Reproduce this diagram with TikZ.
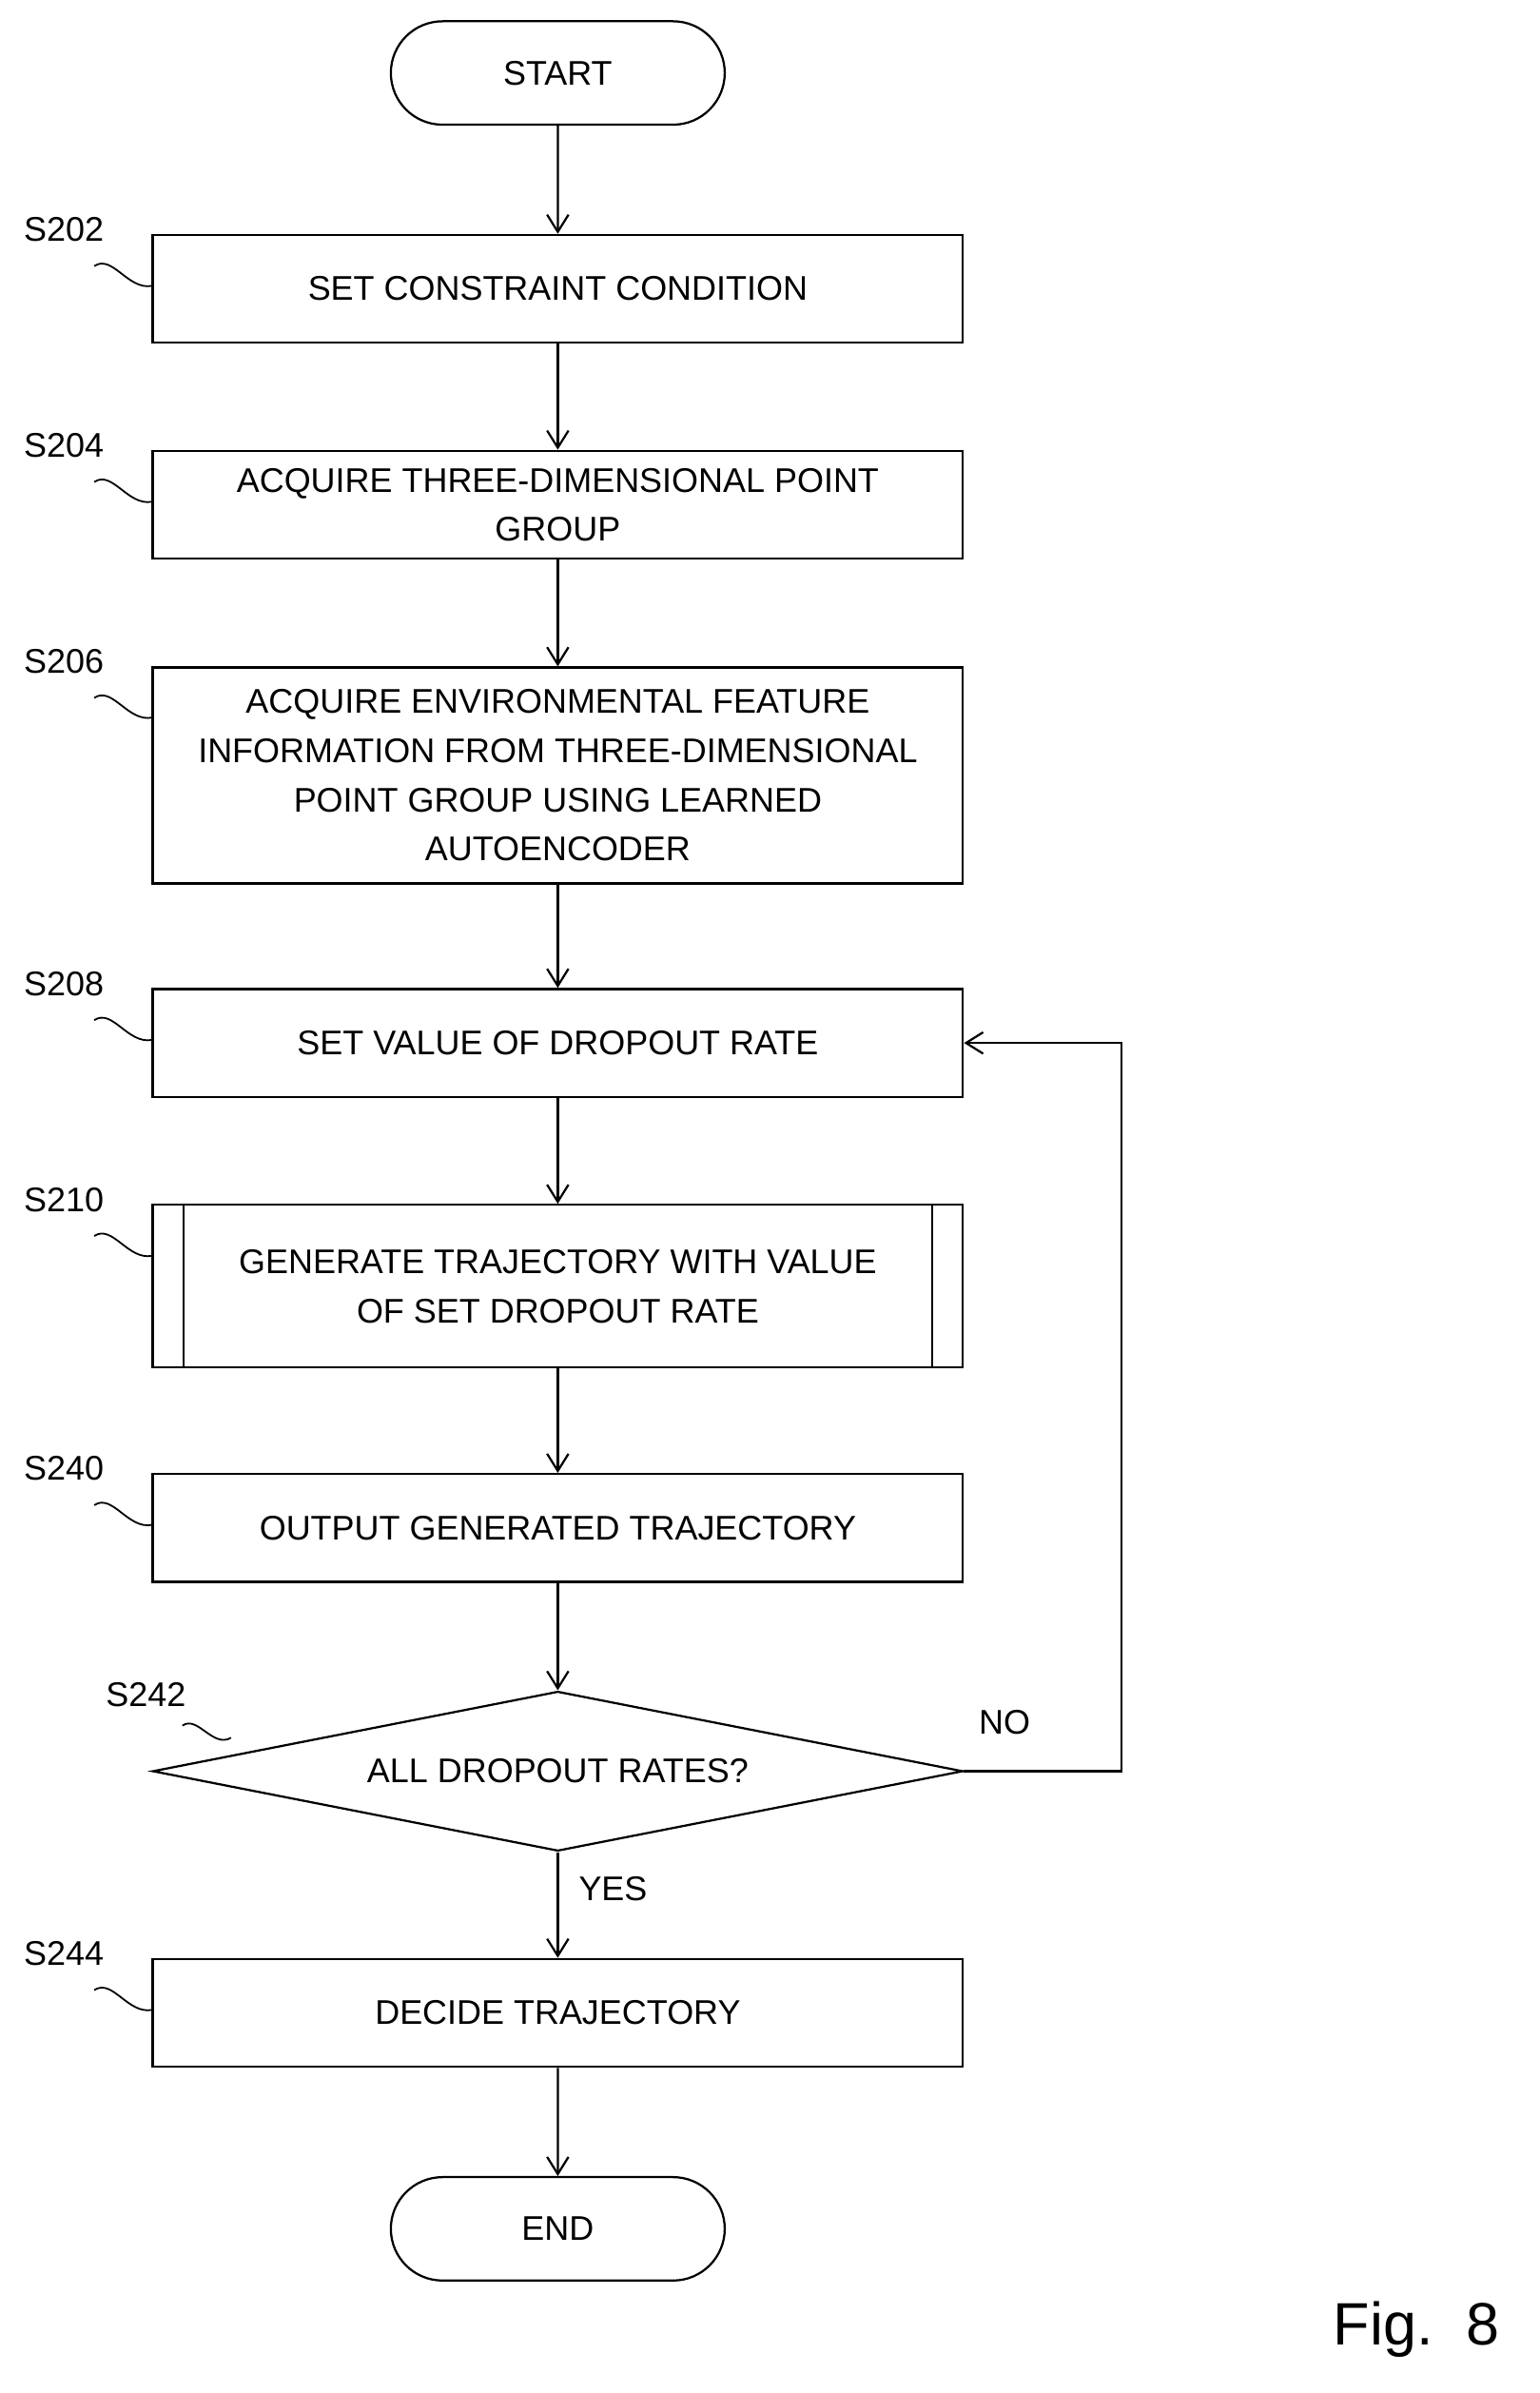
\documentclass[tikz,border=0pt]{standalone}
\usepackage{fontspec}
\setmainfont{Liberation Sans}
\usetikzlibrary{shapes.geometric,shapes.misc,arrows.meta}
\begin{document}
\begin{tikzpicture}[x=0.025cm,y=-0.025cm,
  font=\fontsize{16}{23}\selectfont,
  line width=1pt,
  proc/.style={draw,minimum width=13.325cm,minimum height=1.775cm,align=center,inner sep=2pt},
  term/.style={draw,rounded rectangle,minimum width=5.725cm,minimum height=1.7cm},
  flow/.style={-{Straight Barb[length=8pt,width=10pt]}},
  tag/.style={anchor=center}]
  \useasboundingbox (0,0) rectangle (1013,1574);

  \node[term] (start) at (367,48) {START};
  \node[proc] (s202) at (367,190) {SET CONSTRAINT CONDITION};
  \node[proc] (s204) at (367,332) {ACQUIRE THREE-DIMENSIONAL POINT\\GROUP};
  \node[proc,minimum height=3.55cm] (s206) at (367,510)
    {ACQUIRE ENVIRONMENTAL FEATURE\\INFORMATION FROM THREE-DIMENSIONAL\\POINT GROUP USING LEARNED\\AUTOENCODER};
  \node[proc] (s208) at (367,686) {SET VALUE OF DROPOUT RATE};
  \node[proc,minimum height=2.675cm] (s210) at (367,846)
    {GENERATE TRAJECTORY WITH VALUE\\OF SET DROPOUT RATE};
  \draw ([xshift=0.525cm]s210.north west) -- ([xshift=0.525cm]s210.south west);
  \draw ([xshift=-0.525cm]s210.north east) -- ([xshift=-0.525cm]s210.south east);
  \node[proc] (s240) at (367,1005) {OUTPUT GENERATED TRAJECTORY};
  \node[draw,diamond,aspect=5.08,minimum width=13.325cm,minimum height=2.625cm,inner sep=0pt] (s242) at (367,1165) {ALL DROPOUT RATES?};
  \node[proc] (s244) at (367,1324) {DECIDE TRAJECTORY};
  \node[term] (end) at (367,1466) {END};

  \draw[flow] (start) -- (s202);
  \draw[flow] (s202) -- (s204);
  \draw[flow] (s204) -- (s206);
  \draw[flow] (s206) -- (s208);
  \draw[flow] (s208) -- (s210);
  \draw[flow] (s210) -- (s240);
  \draw[flow] (s240) -- (s242);
  \draw[flow] (s242) -- node[right=6pt,pos=0.35] {YES} (s244);
  \draw[flow] (s244) -- (end);
  \coordinate (loop) at (738,1165);
  \draw[flow] (s242.east) -- (loop) |- (s208.east);
  \node at (661,1133) {NO};

  % step labels
  \foreach \name/\y in {202/155,204/297,206/439,208/651,210/793,240/970,244/1289}{
    \node[tag] at (42,\y-4) {S\name};
    \draw[line width=0.8pt] (62,\y+20) .. controls (74,\y+12) and (84,\y+36) .. (100,\y+33);
  }
  \node[tag] at (96,1115) {S242};
  \draw[line width=0.8pt] (120,1135) .. controls (130,1128) and (140,1150) .. (152,1143);

  \node[font=\fontsize{28}{32}\selectfont] at (932,1532) {Fig.\ \ 8};
\end{tikzpicture}
\end{document}
